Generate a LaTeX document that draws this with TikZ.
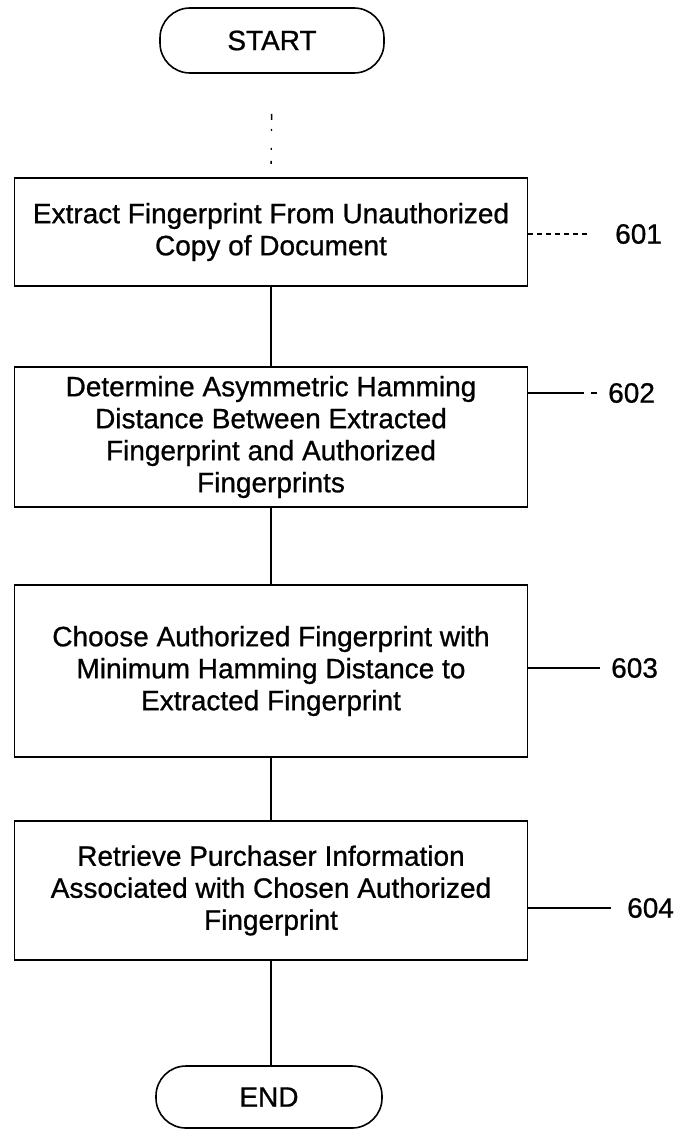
\documentclass[tikz,border=0pt]{standalone}
\usepackage{fontspec}
\setmainfont[FakeBold=0.8]{Liberation Sans}
\begin{document}
\begin{tikzpicture}[x=1pt,y=-1pt,
  every node/.style={font=\fontsize{28}{32}\selectfont},
  stepbox/.style={draw,line width=1.8pt,minimum width=513pt,align=center,inner sep=0pt},
  term/.style={draw,line width=1.6pt,rounded corners=30pt,inner sep=0pt},
  flow/.style={line width=1.4pt},
  lead/.style={line width=1.4pt},
  reflabel/.style={anchor=west,inner sep=0pt}]
\useasboundingbox (0,0) rectangle (675,1129);
\node[term,minimum width=224pt,minimum height=65pt] (start) at (272,40.5) {START};
\node[stepbox,minimum height=108pt] (b601) at (271,232) {Extract Fingerprint From Unauthorized\\Copy of Document};
\node[stepbox,minimum height=140pt] (b602) at (271,437) {Determine Asymmetric Hamming\\Distance Between Extracted\\Fingerprint and Authorized\\Fingerprints};
\node[stepbox,minimum height=172pt] (b603) at (271,671) {Choose Authorized Fingerprint with\\Minimum Hamming Distance to\\Extracted Fingerprint};
\node[stepbox,minimum height=139pt] (b604) at (271,890.5) {Retrieve Purchaser Information\\Associated with Chosen Authorized\\Fingerprint};
\node[term,minimum width=226pt,minimum height=62pt] (end) at (269,1097) {END};
% connectors
\draw[flow,dash pattern=on 6pt off 9pt on 2pt off 17pt on 2pt off 11pt on 3pt off 40pt,shorten <=40pt,shorten >=13pt] (start.south) -- (b601.north);
\draw[flow] (b601.south) -- (b602.north);
\draw[flow] (b602.south) -- (b603.north);
\draw[flow] (b603.south) -- (b604.north);
\draw[flow] (b604.south) -- (b604.south |- end.north);
% reference labels
\node[reflabel] (l601) at (615,234) {601};
\node[reflabel] (l602) at (608,393) {602};
\node[reflabel] (l603) at (611,668) {603};
\node[reflabel] (l604) at (627,908) {604};
\coordinate (e601) at (591,234);
\coordinate (e602) at (597,393);
\coordinate (e603) at (600,668);
\coordinate (e604) at (611,908);
\draw[lead,dash pattern=on 5pt off 4pt] (b601.east |- e601) -- (e601);
\draw[lead,dash pattern=on 56pt off 7pt on 7pt off 20pt] (b602.east |- e602) -- (e602);
\draw[lead] (b603.east |- e603) -- (e603);
\draw[lead] (b604.east |- e604) -- (e604);
\end{tikzpicture}
\end{document}
